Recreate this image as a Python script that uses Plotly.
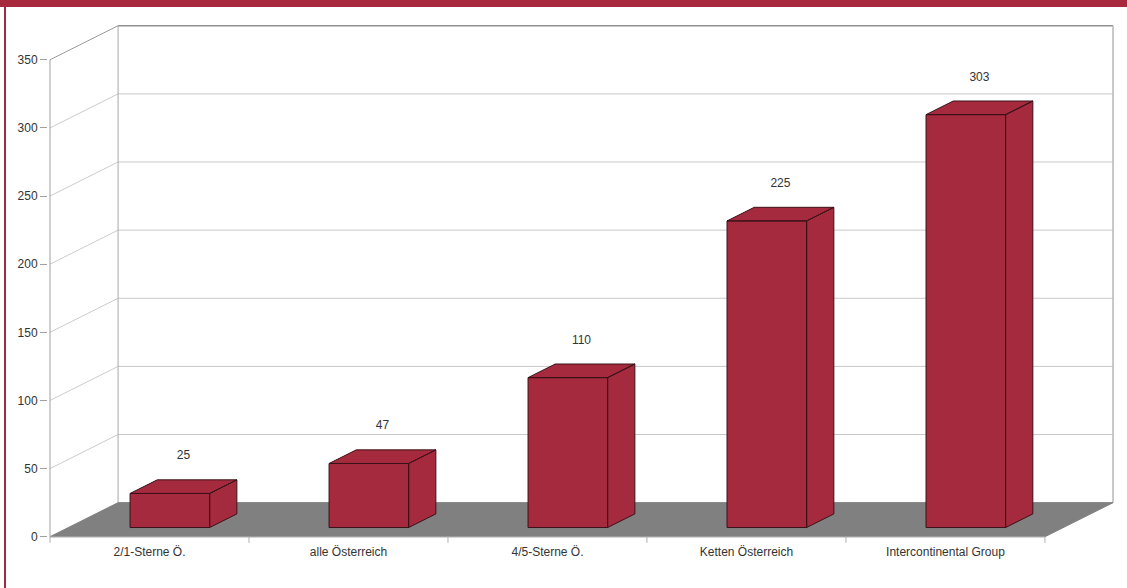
import plotly.graph_objects as go

# ---- data ----
categories = ["2/1-Sterne Ö.", "alle Österreich", "4/5-Sterne Ö.", "Ketten Österreich", "Intercontinental Group"]
values = [25, 47, 110, 225, 303]
y_ticks = [0, 50, 100, 150, 200, 250, 300, 350]

# ---- 3D projection style constants ----
DX = 0.342      # depth offset in category units
DY = 25.0       # depth offset in value units
BAR_W = 0.40    # bar width (category units)
BAR_C = 0.51    # bar centre within category
Z0 = 0.27       # bar front depth fraction
ZD = 0.40       # bar depth fraction
YMAX = y_ticks[-1]
NCAT = len(categories)

BAR_COLOR = "#A62A3E"
BAR_LINE = "#3a1218"
FLOOR = "#808080"
FONT = "Liberation Sans, Arial, sans-serif"

fig = go.Figure()

def seg_trace(xs, ys, color, width=1):
    fig.add_trace(go.Scatter(x=xs, y=ys, mode="lines", line=dict(color=color, width=width),
                             hoverinfo="skip", showlegend=False))

# back wall gridlines (horizontal) and side-wall diagonals
for v in y_ticks:
    col = "#8f8f8f" if v == YMAX else "#c8c8c8"
    seg_trace([DX, NCAT + DX], [v + DY, v + DY], col, 1.5 if v == YMAX else 1)
    if v > 0:
        seg_trace([0, DX], [v, v + DY], "#cccccc" if v != YMAX else "#9a9a9a")

# back wall verticals
seg_trace([DX, DX], [DY, YMAX + DY], "#a8a8a8")
seg_trace([NCAT + DX, NCAT + DX], [DY, YMAX + DY], "#b8b8b8", 1.5)
# front value axis
seg_trace([0, 0], [0, YMAX], "#a0a0a0")

# floor
fig.add_trace(go.Scatter(x=[0, DX, NCAT + DX, NCAT, 0], y=[0, DY, DY, 0, 0],
                         mode="lines", fill="toself", fillcolor=FLOOR,
                         line=dict(color=FLOOR, width=1), hoverinfo="skip", showlegend=False))
# front category axis line and boundary ticks
seg_trace([0, NCAT], [0, 0], "#a0a0a0")
tx, ty = [], []
for k in range(NCAT + 1):
    tx += [k, k, None]
    ty += [0, -4.5, None]
seg_trace(tx, ty, "#b0b0b0")

# bars
lab_x, lab_y = [], []
for i, v in enumerate(values):
    sx, sy = Z0 * DX, Z0 * DY
    ddx, ddy = ZD * DX, ZD * DY
    xl = i + BAR_C - BAR_W / 2 + sx
    xr = i + BAR_C + BAR_W / 2 + sx
    y0 = sy
    y1 = v + sy
    xs = [xl, xr, xr, xl, xl, None,
          xr, xr + ddx, xr + ddx, xr, xr, None,
          xl, xr, xr + ddx, xl + ddx, xl]
    ys = [y0, y0, y1, y1, y0, None,
          y0, y0 + ddy, y1 + ddy, y1, y0, None,
          y1, y1, y1 + ddy, y1 + ddy, y1]
    fig.add_trace(go.Scatter(x=xs, y=ys, mode="lines", fill="toself", fillcolor=BAR_COLOR,
                             line=dict(color=BAR_LINE, width=1), hoverinfo="skip", showlegend=False))
    lab_x.append(i + BAR_C + (Z0 + ZD / 2) * DX)
    lab_y.append(v + 34)

fig.add_trace(go.Scatter(x=lab_x, y=lab_y, mode="text", text=[str(v) for v in values],
                         textfont=dict(family=FONT, size=12, color="#333333"),
                         hoverinfo="skip", showlegend=False, cliponaxis=False))

fig.update_layout(
    width=1127, height=588,
    margin=dict(l=48, r=12, t=23, b=45),
    paper_bgcolor="white", plot_bgcolor="white",
    font=dict(family=FONT, size=12, color="#333333"),
    showlegend=False,
    xaxis=dict(range=[-0.01, NCAT + DX + 0.01], showgrid=False, zeroline=False, showline=False,
               tickvals=[i + 0.5 for i in range(NCAT)], ticktext=categories,
               ticks="", tickfont=dict(family=FONT, size=12, color="#333333"), fixedrange=True),
    yaxis=dict(range=[-4.6, 377], showgrid=False, zeroline=False, showline=False,
               tickvals=y_ticks, ticks="outside", ticklen=7, tickcolor="#a0a0a0",
               tickfont=dict(family=FONT, size=12, color="#333333"), fixedrange=True),
    shapes=[
        dict(type="rect", xref="paper", yref="paper", x0=-0.1, x1=1.1,
             y0=(588 - 45 - 7) / 520.0, y1=(588 - 45) / 520.0 + 0.01,
             fillcolor="#A8283E", line=dict(width=0), layer="above"),
        dict(type="rect", xref="paper", yref="paper", x0=(4 - 48) / 1067.0, x1=(6 - 48) / 1067.0,
             y0=-0.2, y1=1.1, fillcolor="#A8283E", line=dict(width=0), layer="above"),
    ],
)

fig.write_html("out.html", config={"displayModeBar": False, "staticPlot": True},
               post_script="document.body.style.margin='0';")
